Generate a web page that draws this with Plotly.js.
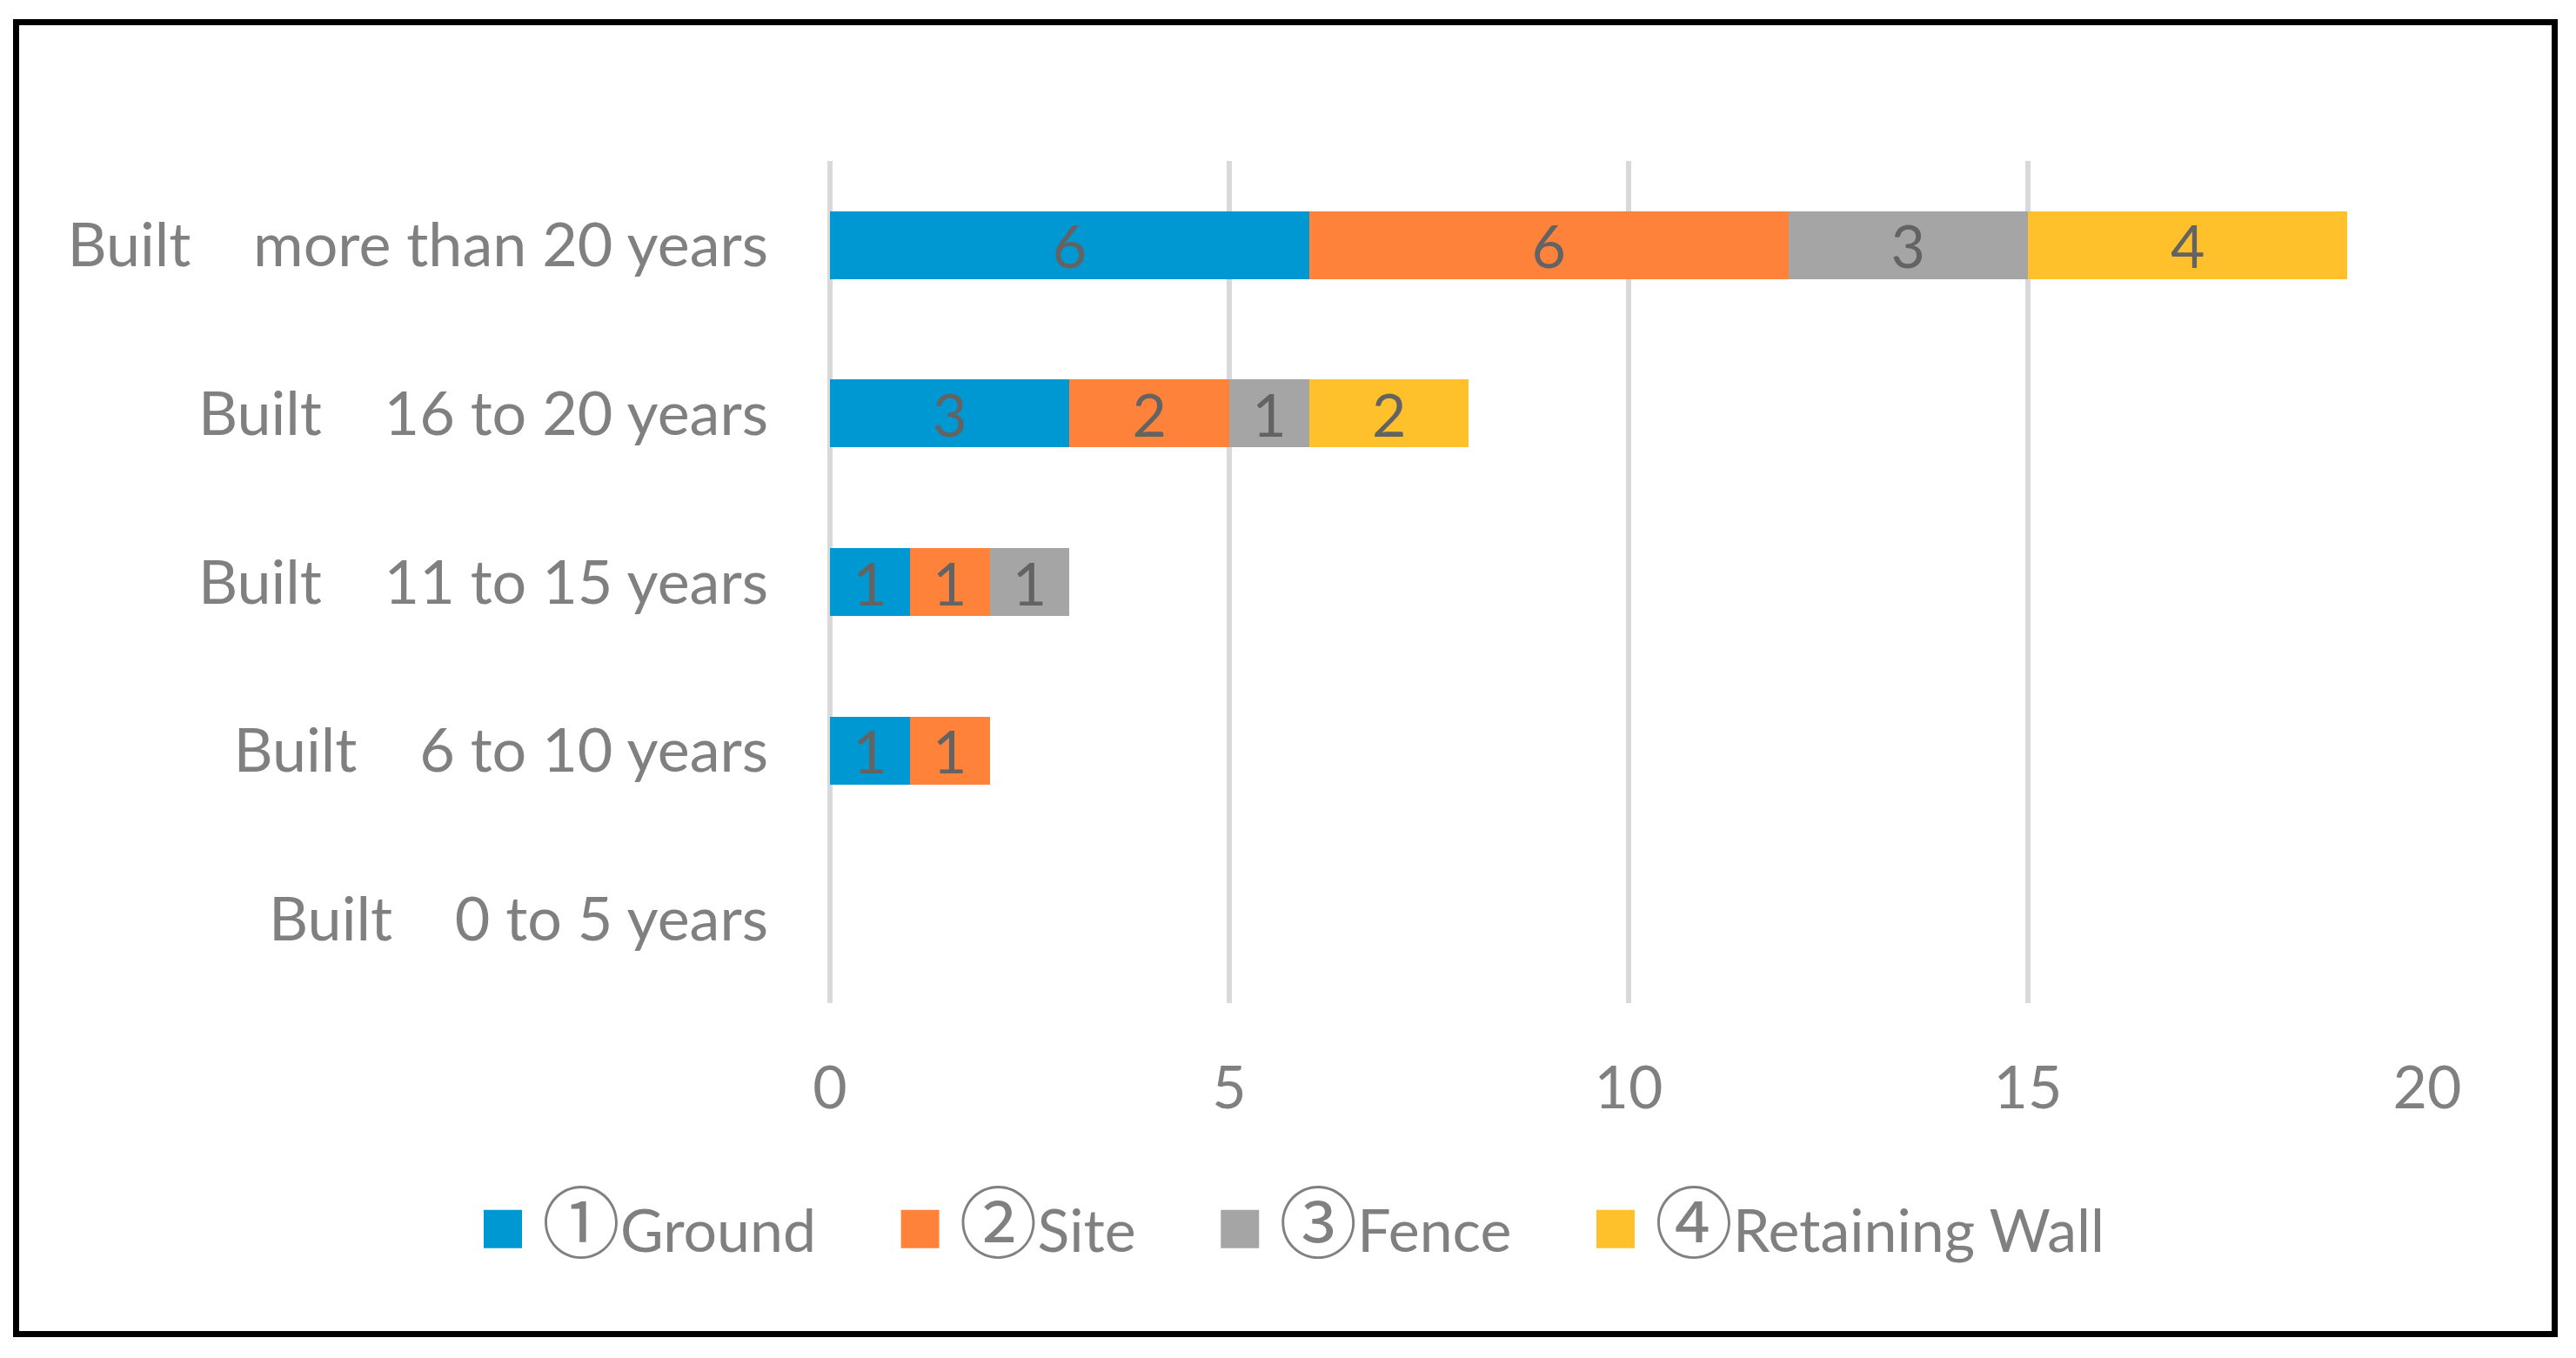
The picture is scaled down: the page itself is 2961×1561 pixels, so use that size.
<!DOCTYPE html>
<html>
<head>
<meta charset="utf-8">
<script src="https://cdn.plot.ly/plotly-3.0.1.min.js"></script>
<style>
  html, body { margin: 0; padding: 0; background: #ffffff; }
  #chart { width: 2961px; height: 1561px; }
</style>
</head>
<body>
<div id="chart"></div>
<script>
// ---- data (bottom-to-top category order) ----
var NB = '\u00a0';
var SP = NB + NB + NB + NB;
var categories = [
  'Built' + SP + '0 to 5 years',
  'Built' + SP + '6 to 10 years',
  'Built' + SP + '11 to 15 years',
  'Built' + SP + '16 to 20 years',
  'Built' + SP + 'more than 20 years'
];
var seriesMarks = ['\u2460', '\u2461', '\u2462', '\u2463'];
var seriesLabels = ['Ground', 'Site', 'Fence', 'Retaining Wall'];
var groundCounts = [0, 1, 1, 3, 6];
var siteCounts = [0, 1, 1, 2, 6];
var fenceCounts = [0, 0, 1, 1, 3];
var wallCounts = [0, 0, 0, 2, 4];
var xTickValues = [0, 5, 10, 15, 20];

// ---- styles ----
var colors = ['#0098D2', '#FF823A', '#A5A5A5', '#FEC12B'];
var FONT = 'Lato, "Noto Sans CJK JP", "DejaVu Sans", sans-serif';
var allSeries = [groundCounts, siteCounts, fenceCounts, wallCounts];
var legendPad = NB + NB + NB + NB;

var traces = allSeries.map(function (vals, i) {
  return {
    type: 'bar',
    orientation: 'h',
    name: "<span style=\"font-family:'Noto Sans CJK JP';font-size:90px\">" + seriesMarks[i] + '</span>' +
          seriesLabels[i] + (i < allSeries.length - 1 ? legendPad : ''),
    y: categories.slice(),
    x: vals.slice(),
    text: vals.map(function (v) { return v ? String(v) : ''; }),
    texttemplate: '%{text}',
    marker: { color: colors[i], line: { width: 0 } },
    textposition: 'inside',
    insidetextanchor: 'middle',
    textangle: 0,
    constraintext: 'none',
    insidetextfont: { family: FONT, size: 68, color: '#636363' },
    hoverinfo: 'x+y+name'
  };
});

// plot area in pixels
var L = 954, R = 2790, T = 185, B = 1153, W = 2961, H = 1561;
function px(x) { return (x - L) / (R - L); }
function py(y) { return (B - y) / (B - T); }

var layout = {
  width: W,
  height: H,
  margin: { l: L, r: W - R, t: T, b: H - B, pad: 0 },
  paper_bgcolor: '#ffffff',
  plot_bgcolor: '#ffffff',
  barmode: 'stack',
  bargap: 0.597,
  showlegend: true,
  font: { family: FONT, size: 68, color: '#808080' },
  xaxis: {
    range: [0, 20],
    tickvals: xTickValues,
    ticktext: xTickValues.map(String),
    showgrid: true,
    gridcolor: '#D9D9D9',
    gridwidth: 6.5,
    zeroline: true,
    zerolinecolor: '#D9D9D9',
    zerolinewidth: 6.5,
    showline: false,
    ticks: '',
    ticklabelstandoff: 52,
    tickfont: { family: FONT, size: 68, color: '#808080' },
    fixedrange: true
  },
  yaxis: {
    type: 'category',
    categoryorder: 'array',
    categoryarray: categories,
    showgrid: false,
    zeroline: false,
    showline: false,
    ticks: '',
    ticklabelstandoff: 70,
    tickfont: { family: FONT, size: 70, color: '#808080' },
    fixedrange: true
  },
  legend: {
    orientation: 'h',
    xref: 'paper',
    yref: 'paper',
    x: px(533),
    xanchor: 'left',
    y: py(1413),
    yanchor: 'middle',
    itemwidth: 80,
    itemclick: false,
    itemdoubleclick: false,
    bgcolor: 'rgba(0,0,0,0)',
    borderwidth: 0,
    font: { family: FONT, size: 68, color: '#808080' },
    traceorder: 'normal'
  },
  shapes: [{
    type: 'rect',
    xref: 'paper', yref: 'paper',
    x0: px(18.5), x1: px(2936.5),
    y0: py(1533.5), y1: py(25.5),
    line: { color: '#000000', width: 7 },
    fillcolor: 'rgba(0,0,0,0)',
    layer: 'above'
  }]
};

Plotly.newPlot('chart', traces, layout, { displayModeBar: false, staticPlot: true }).then(function (gd) {
  // enlarge legend colour swatches to match the reference squares
  var paths = gd.querySelectorAll('.legend .legendpoints path');
  paths.forEach(function (p) {
    p.setAttribute('d', 'M22,22H-22V-22H22Z');
  });
});
</script>
</body>
</html>
